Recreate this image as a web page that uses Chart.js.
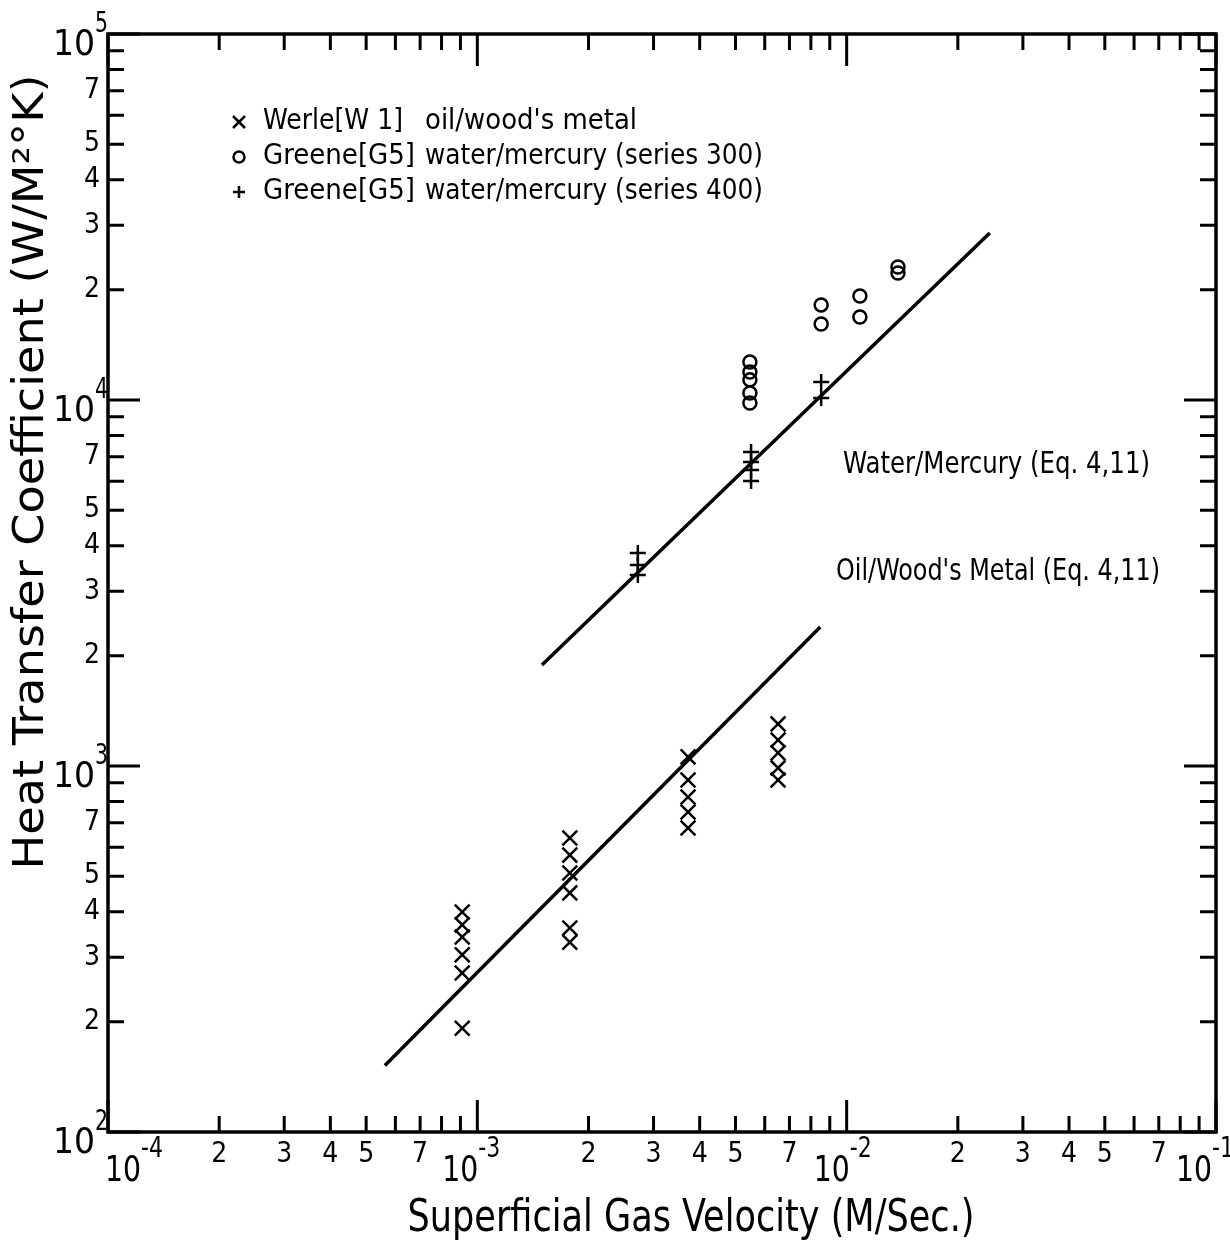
<!DOCTYPE html>
<html>
<head>
<meta charset="utf-8">
<script src="https://cdn.jsdelivr.net/npm/chart.js@4.4.1/dist/chart.umd.min.js"></script>
<style>
    html, body { margin: 0; padding: 0; background: #fff; }
    #wrap { width: 1230px; height: 1245px; position: relative; }
</style>
</head>
<body>
<div id="wrap"><canvas id="htcChart"></canvas></div>
<script>
// Werle [W1] oil / wood's metal  (x markers)
const werleVelocity = [0.00091, 0.00091, 0.00091, 0.00091, 0.00091, 0.00091,
    0.00178, 0.00178, 0.00178, 0.00178, 0.00178, 0.00178,
    0.00372, 0.00372, 0.00372, 0.00372, 0.00372,
    0.00652, 0.00652, 0.00652, 0.00652, 0.00652];
const werleHtc = [399, 368, 341, 305, 272, 192,
    636, 571, 510, 450, 361, 330,
    1059, 916, 823, 749, 677,
    1303, 1178, 1086, 988, 916];

// Greene [G5] water / mercury, series 300 (circles)
const greene300Velocity = [0.00547, 0.00547, 0.00547, 0.00547, 0.00547,
    0.00853, 0.00853, 0.01086, 0.01086, 0.01377, 0.01377];
const greene300Htc = [12700, 11930, 11350, 10450, 9810, 18190, 16130, 19240, 16860, 23080, 22230];

// Greene [G5] water / mercury, series 400 (plus)
const greene400Velocity = [0.00272, 0.00272, 0.00272, 0.00551, 0.00551, 0.00551, 0.00551, 0.00853, 0.00853];
const greene400Htc = [3819, 3540, 3325, 7210, 6770, 6440, 6010, 11200, 10130];

// correlation lines (Eq. 4,11)
const waterLineVelocity = [0.001496, 0.0244];
const waterLineHtc = [1888, 28600];
const oilLineVelocity = [0.000562, 0.00848];
const oilLineHtc = [152, 2399];

// axes
const xDecades = [-4, -3, -2, -1];
const yDecades = [2, 3, 4, 5];
const minorMantissas = [2, 3, 4, 5, 6, 7, 8, 9];
const labelledMantissas = [2, 3, 4, 5, 7];
const xDecadeShift = [32, 0, 2, -5]; // hand-lettered labels sit a little off the tick

const legendNames = ['Werle[W 1]', 'Greene[G5]', 'Greene[G5]'];
const legendNotes = ["oil/wood's metal", 'water/mercury (series 300)', 'water/mercury (series 400)'];
const lineNotes = ['Water/Mercury (Eq. 4,11)', "Oil/Wood's Metal (Eq. 4,11)"];
const xTitle = 'Superficial Gas Velocity (M/Sec.)';
const yTitle = 'Heat Transfer Coefficient (W/M\u00B2\u00B0K)';

const FONT = "'DejaVu Sans Condensed', 'Liberation Sans Narrow', 'DejaVu Sans', sans-serif";

function toPoints(xs, ys) {
    return xs.map((x, i) => ({ x: x, y: ys[i] }));
}

function logTicks(decades) {
    const out = [];
    for (let i = 0; i < decades.length - 1; i++) {
        const base = Math.pow(10, decades[i]);
        out.push({ value: base, major: true });
        minorMantissas.forEach(m => out.push({ value: m * base, major: false }));
    }
    out.push({ value: Math.pow(10, decades[decades.length - 1]), major: true });
    return out;
}

function mantissa(v) {
    return Math.round(v / Math.pow(10, Math.floor(Math.log10(v) + 1e-9)));
}

function minorLabel(v) {
    const m = mantissa(v);
    return (m !== 1 && labelledMantissas.includes(m)) ? String(m) : '';
}

function drawText(ctx, text, x, y, size, width, align) {
    ctx.save();
    ctx.font = size + 'px ' + FONT;
    ctx.textBaseline = 'middle';
    ctx.textAlign = align || 'left';
    const w = ctx.measureText(text).width;
    const k = width ? width / w : 1;
    ctx.translate(x, y);
    ctx.scale(k, 1);
    ctx.fillText(text, 0, 0);
    ctx.restore();
}

function drawMarker(ctx, style, x, y, r) {
    ctx.beginPath();
    if (style === 'crossRot') {
        ctx.moveTo(x - r, y - r); ctx.lineTo(x + r, y + r);
        ctx.moveTo(x + r, y - r); ctx.lineTo(x - r, y + r);
    } else if (style === 'cross') {
        ctx.moveTo(x - r, y); ctx.lineTo(x + r, y);
        ctx.moveTo(x, y - r); ctx.lineTo(x, y + r);
    } else {
        ctx.arc(x, y, r, 0, Math.PI * 2);
    }
    ctx.stroke();
}

const decorPlugin = {
    id: 'decor',
    afterDraw(chart) {
        const ctx = chart.ctx;
        const area = chart.chartArea;
        const xs = chart.scales.x;
        const ys = chart.scales.y;
        ctx.save();
        ctx.strokeStyle = '#000';
        ctx.fillStyle = '#000';
        ctx.lineCap = 'butt';

        // frame
        ctx.lineWidth = 3.5;
        ctx.strokeRect(area.left, area.top, area.right - area.left, area.bottom - area.top);

        // inward tick marks on all four sides
        ctx.lineWidth = 3;
        xs.ticks.forEach(t => {
            const px = xs.getPixelForValue(t.value);
            const len = mantissa(t.value) === 1 ? 32 : 16;
            ctx.beginPath();
            ctx.moveTo(px, area.bottom); ctx.lineTo(px, area.bottom - len);
            ctx.moveTo(px, area.top); ctx.lineTo(px, area.top + len);
            ctx.stroke();
        });
        ys.ticks.forEach(t => {
            const py = ys.getPixelForValue(t.value);
            const len = mantissa(t.value) === 1 ? 32 : 16;
            ctx.beginPath();
            ctx.moveTo(area.left, py); ctx.lineTo(area.left + len, py);
            ctx.moveTo(area.right, py); ctx.lineTo(area.right - len, py);
            ctx.stroke();
        });

        // decade labels with superscripts
        xDecades.forEach((e, i) => {
            const px = xs.getPixelForValue(Math.pow(10, e)) + xDecadeShift[i];
            drawText(ctx, '10', px + 1, area.bottom + 40, 36, 36, 'right');
            drawText(ctx, String(e), px + 1, area.bottom + 18, 28, 22, 'left');
        });
        yDecades.forEach(e => {
            const py = ys.getPixelForValue(Math.pow(10, e));
            drawText(ctx, '10', 95, py + 12, 36, 42, 'right');
            drawText(ctx, String(e), 95, py - 9, 28, 13, 'left');
        });

        // legend block
        const legendStyles = ['crossRot', 'circle', 'cross'];
        const legendY = [122, 157, 192];
        ctx.lineWidth = 2.5;
        legendStyles.forEach((s, i) => {
            drawMarker(ctx, s, 239, legendY[i], s === 'circle' ? 5.5 : 6);
            drawText(ctx, legendNames[i], 263, legendY[i], 28, i === 0 ? 140 : 152, 'left');
            drawText(ctx, legendNotes[i], 425, legendY[i], 28, [212, 338, 338][i], 'left');
        });

        // line notes
        drawText(ctx, lineNotes[0], 843, 465, 30, 307, 'left');
        drawText(ctx, lineNotes[1], 836, 572, 30, 324, 'left');

        // axis titles
        drawText(ctx, xTitle, 691, 1220, 44, 567, 'center');
        ctx.save();
        ctx.translate(32, 472);
        ctx.rotate(-Math.PI / 2);
        drawText(ctx, yTitle, 0, 0, 42, 795, 'center');
        ctx.restore();

        ctx.restore();
    }
};

const ctxHtc = document.getElementById('htcChart').getContext('2d');
const chartHtc = new Chart(ctxHtc, {
    type: 'scatter',
    data: {
        datasets: [
            {
                label: 'Werle[W1] oil/wood\'s metal',
                data: toPoints(werleVelocity, werleHtc),
                pointStyle: 'crossRot',
                pointRadius: 10.5,
                borderColor: '#000',
                pointBorderWidth: 2.5,
                showLine: false
            },
            {
                label: 'Greene[G5] water/mercury (series 300)',
                data: toPoints(greene300Velocity, greene300Htc),
                pointStyle: 'circle',
                pointRadius: 6.5,
                borderColor: '#000',
                backgroundColor: 'rgba(0,0,0,0)',
                pointBorderWidth: 2.5,
                showLine: false
            },
            {
                label: 'Greene[G5] water/mercury (series 400)',
                data: toPoints(greene400Velocity, greene400Htc),
                pointStyle: 'cross',
                pointRadius: 8,
                borderColor: '#000',
                pointBorderWidth: 2.5,
                showLine: false
            },
            {
                label: 'Water/Mercury (Eq. 4,11)',
                data: toPoints(waterLineVelocity, waterLineHtc),
                showLine: true,
                borderColor: '#000',
                borderWidth: 3.5,
                pointRadius: 0
            },
            {
                label: 'Oil/Wood\'s Metal (Eq. 4,11)',
                data: toPoints(oilLineVelocity, oilLineHtc),
                showLine: true,
                borderColor: '#000',
                borderWidth: 3.5,
                pointRadius: 0
            }
        ]
    },
    options: {
        responsive: true,
        maintainAspectRatio: false,
        animation: false,
        layout: { padding: { top: 34, right: 14, left: 0, bottom: 0 } },
        plugins: {
            legend: { display: false },
            tooltip: { enabled: false }
        },
        scales: {
            x: {
                type: 'logarithmic',
                min: 1e-4,
                max: 1e-1,
                afterBuildTicks: (scale) => { scale.ticks = logTicks(xDecades); },
                afterFit: (scale) => { scale.height = 113; },
                grid: { display: false, drawTicks: false },
                border: { display: false },
                ticks: {
                    autoSkip: false,
                    maxRotation: 0,
                    padding: 6,
                    color: '#000',
                    font: { family: FONT, size: 28 },
                    callback: (value) => minorLabel(value)
                }
            },
            y: {
                type: 'logarithmic',
                min: 100,
                max: 1e5,
                afterBuildTicks: (scale) => { scale.ticks = logTicks(yDecades); },
                afterFit: (scale) => { scale.width = 108; },
                grid: { display: false, drawTicks: false },
                border: { display: false },
                ticks: {
                    autoSkip: false,
                    padding: 8,
                    color: '#000',
                    font: { family: FONT, size: 28 },
                    callback: (value) => minorLabel(value)
                }
            }
        }
    },
    plugins: [decorPlugin]
});
</script>
</body>
</html>
